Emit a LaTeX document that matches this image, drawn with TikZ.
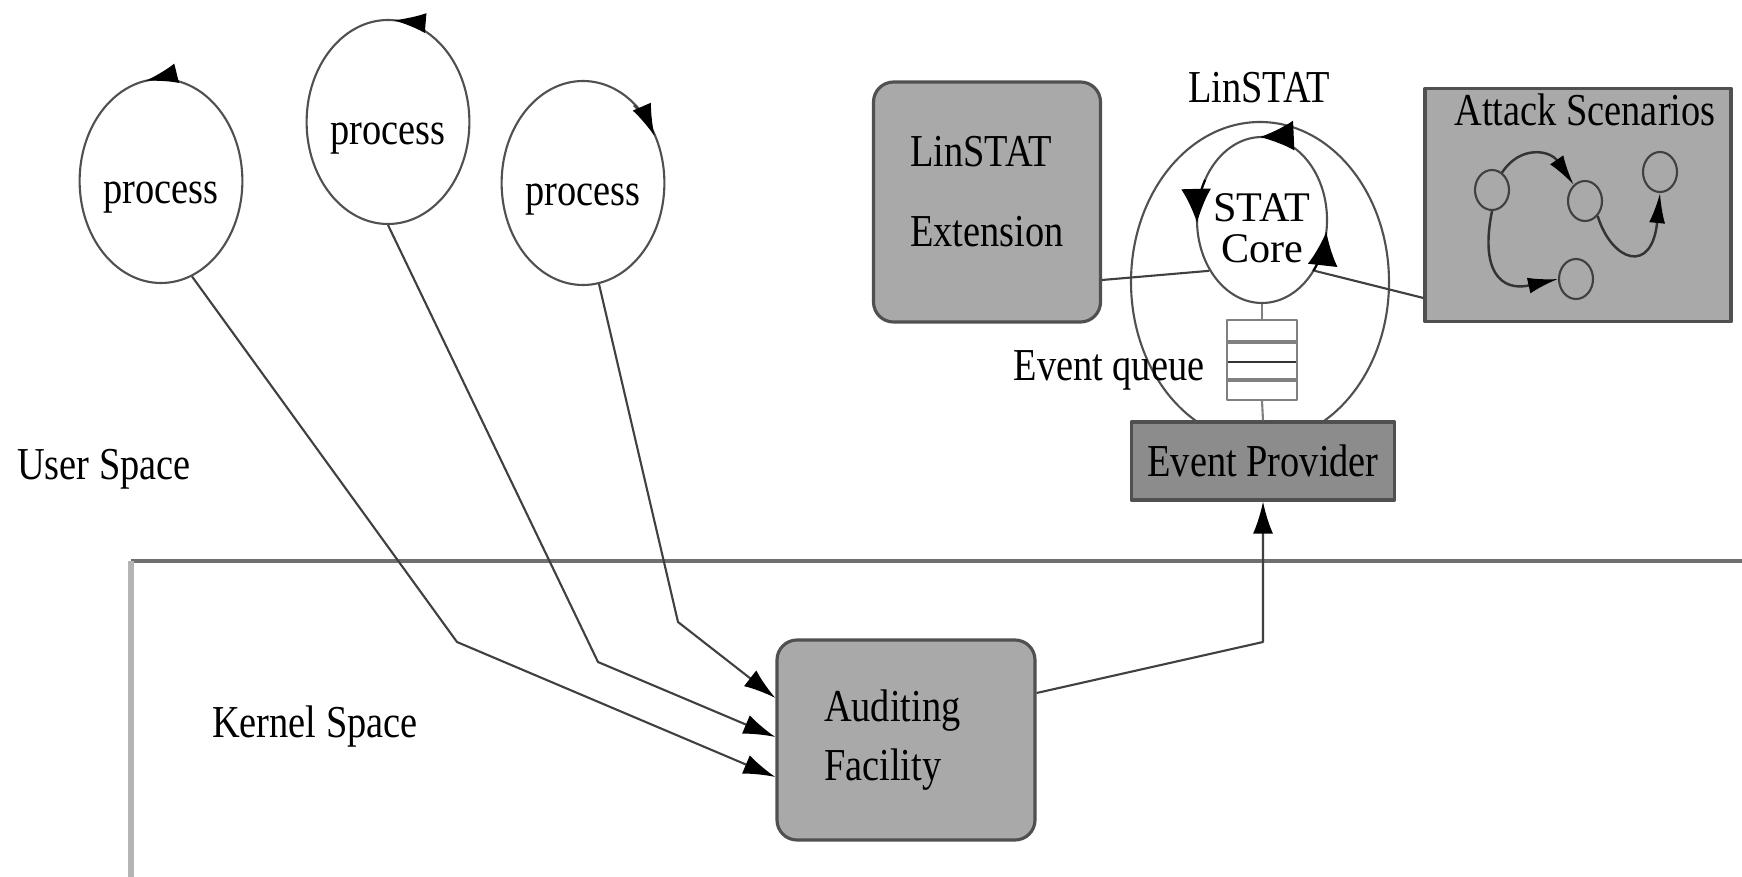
\documentclass[tikz,border=0pt]{standalone}
\usepackage{fontspec}
\setmainfont{Liberation Serif}[FakeStretch=0.84]
\newfontfamily\corefont{Liberation Serif}
\usepackage{tikz}
\usetikzlibrary{shapes,arrows.meta}
\definecolor{boxgray}{HTML}{A9A9A9}
\definecolor{provgray}{HTML}{8C8C8C}
\definecolor{edgegray}{HTML}{505050}
\definecolor{sepdark}{HTML}{707070}
\definecolor{seplight}{HTML}{B4B4B4}

\begin{document}
\begin{tikzpicture}
    [x=0.1mm,y=0.1mm,line width=0.6pt,line join=round,
     every node/.style={font=\fontsize{13}{15.6}\selectfont},
     proc/.style={ellipse,draw=edgegray,minimum width=16.2mm,minimum height=20.4mm,inner sep=0pt,text height=4.6mm,text depth=0pt},
     box/.style={rectangle,draw=edgegray,fill=boxgray,line width=0.9pt},
     state/.style={ellipse,draw=black!75,minimum width=3.4mm,minimum height=4mm,inner sep=0pt},
     conn/.style={draw=black!75},
     pa/.style={conn,-{Latex[length=3.2mm,width=2mm,color=black]}},
     ca/.style={black,-{Latex[length=3.4mm,width=3mm]}},
     sa/.style={draw=black!80,line width=0.7pt,-{Latex[length=3mm,width=1.6mm,color=black]}}]
\useasboundingbox (0,0) rectangle (1742,-877);
%user / kernel border
\draw[line width=1.1pt,sepdark] (131,-561) -- (1742,-561);
\draw[line width=1.8pt,seplight] (131,-561) -- (131,-877);
\node (us) at (104,-469) {User Space};
\node (ks) at (315,-727) {Kernel Space};
%processes
\node[proc] (p1) at (161,-181) {process};
\node[proc] (p2) at (388,-122) {process};
\node[proc] (p3) at (583,-183) {process};
\draw[pa] (p1.center) ++(77:8.1mm and 10.2mm) arc[start angle=77,end angle=101,x radius=8.1mm,y radius=10.2mm];
\draw[pa] (p2.center) ++(63:8.2mm and 10.2mm) arc[start angle=63,end angle=86,x radius=8.2mm,y radius=10.2mm];
\draw[pa] (p3.center) ++(51:8.1mm and 10mm) arc[start angle=51,end angle=28,x radius=8.1mm,y radius=10mm];
%auditing facility
\node[box,rounded corners=2mm,minimum width=25.8mm,minimum height=20mm,text width=16.4mm,align=left] (af) at (906,-740) {Auditing\\[0.5mm]Facility};
\draw[pa] (p1.-72) -- (457,-642) -- ([yshift=-3.7mm]af.west);
\draw[pa] (p2.south) -- (598,-662) -- ([yshift=0.3mm]af.west);
\draw[pa] (p3.-81) -- (678,-622) -- ([yshift=4.2mm]af.west);
%linstat
\node[box,rounded corners=2mm,minimum width=22.7mm,minimum height=24mm,align=left,text depth=2.2mm] (ext) at (987,-202) {LinSTAT\\[2.5mm]Extension};
\node[ellipse,draw=edgegray,minimum width=25.8mm,minimum height=32mm] (ls) at (1260,-282) {};
\node (lstitle) at (1259,-88) {LinSTAT};
\node[ellipse,draw=edgegray,minimum width=13mm,minimum height=16.6mm,inner sep=-2mm,align=center,text height=8.5mm,font=\corefont\fontsize{12}{11.5}\selectfont] (core) at (1262,-220) {STAT\\Core};
\draw[ca] (core.center) ++(62:6.5mm and 8.3mm) arc[start angle=62,end angle=92,x radius=6.5mm,y radius=8.3mm];
\draw[ca] (core.center) ++(151:6.5mm and 8.3mm) arc[start angle=151,end angle=182,x radius=6.5mm,y radius=8.3mm];
\draw[ca] (core.center) ++(-38:6.5mm and 8.3mm) arc[start angle=-38,end angle=-8,x radius=6.5mm,y radius=8.3mm];
\node[draw=gray,fill=white,minimum width=7mm,minimum height=8mm,inner sep=0pt] (eq) at (1262,-360) {};
\foreach \yy/\cc/\ww in {342/gray/1.4pt,362/black!80/0.8pt,380/gray/1.4pt}
  \draw[\cc,line width=\ww] (1228,-\yy) -- (1296,-\yy);
\node (eqlabel) at (1109,-370) {Event queue};
\node[box,fill=provgray,minimum width=26.3mm,minimum height=7.8mm] (ep) at (1263,-461) {Event Provider};
%attack scenarios
\node[box,minimum width=30.6mm,minimum height=23.3mm] (as) at (1578,-205) {};
\node (astitle) at (1585,-110) {Attack Scenarios};
\node[state] (sa) at (1492,-190) {};
\node[state] (sb) at (1585,-201) {};
\node[state] (sc) at (1660,-172) {};
\node[state] (sd) at (1576,-279) {};
\draw[sa] (sa.60) .. controls (1520,-145) and (1550,-150) .. (sb.125);
\draw[sa] (sa.south) .. controls (1480,-270) and (1500,-292) .. (sd.west);
\draw[sa] (sb.-50) .. controls (1612,-262) and (1652,-275) .. (sc.south);
%links
\draw[conn] ([yshift=-7.8mm]ext.east) -- (core.224);
\draw[conn] (core.-44) -- ([yshift=-9.3mm]as.west);
\draw[conn,draw=gray] (core.south) -- (eq.north);
\draw[conn,draw=gray] (eq.south) -- (ep.north);
\draw[pa] ([yshift=4.7mm]af.east) -- (ep.south |- 0,-642) -- (ep.south);
\end{tikzpicture}
\end{document}
